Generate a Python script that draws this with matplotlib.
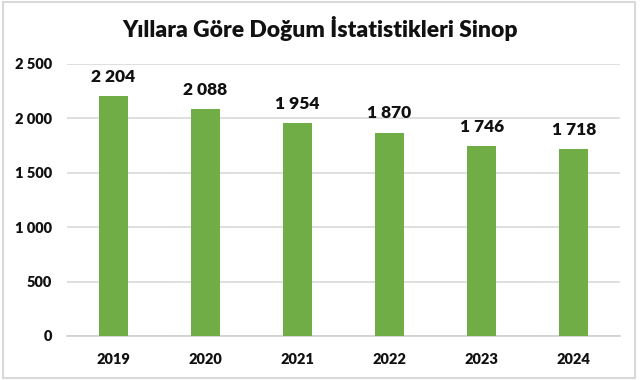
import matplotlib
matplotlib.use("Agg")
import matplotlib.pyplot as plt
from matplotlib.patches import Rectangle

years = ["2019", "2020", "2021", "2022", "2023", "2024"]
births = [2204, 2088, 1954, 1870, 1746, 1718]
y_ticks = [0, 500, 1000, 1500, 2000, 2500]

GREEN = "#70AD47"
FONT = ["Lato", "DejaVu Sans"]


def fmt(v):
    return f"{v:,}".replace(",", " ")


plt.rcParams["font.family"] = FONT
plt.rcParams["font.weight"] = "heavy"

fig = plt.figure(figsize=(6.41, 3.80), dpi=100)
ax = fig.add_axes([0.1045, 0.1158, 0.8627, 0.7158])

x = range(len(years))
ax.bar(x, births, width=0.315, color=GREEN, zorder=3)

for xi, v in zip(x, births):
    ax.annotate(fmt(v), (xi, v), xytext=(0, 8), textcoords="offset points",
                ha="center", va="bottom", fontsize=12.5, fontweight="heavy",
                color="#111111")

ax.set_xlim(-0.5, len(years) - 0.5)
ax.set_ylim(0, 2500)
ax.set_yticks(y_ticks)
ax.set_yticklabels([fmt(t) for t in y_ticks])
ax.set_xticks(list(x))
ax.set_xticklabels(years)
ax.tick_params(axis="both", length=0, labelsize=10.5, colors="#111111")
ax.tick_params(axis="x", pad=12)
ax.tick_params(axis="y", pad=11)
for lbl in ax.get_xticklabels() + ax.get_yticklabels():
    lbl.set_fontweight("heavy")

ax.yaxis.grid(True, color="#d9d9d9", linewidth=1.2, zorder=0)
for s in ["top", "right", "left"]:
    ax.spines[s].set_visible(False)
ax.spines["bottom"].set_color("#d0d0d0")
ax.spines["bottom"].set_linewidth(1.2)

fig.text(0.5, 0.926, "Yıllara Göre Doğum İstatistikleri Sinop", ha="center",
         va="center", fontsize=16.5, fontweight="heavy", color="#111111")

# light frame around the chart
fig.patches.append(Rectangle((0.005, 0.005), 0.985, 0.99, transform=fig.transFigure,
                             fill=False, edgecolor="#d9d9d9", linewidth=1.5))

fig.savefig("out.png", dpi=100)
